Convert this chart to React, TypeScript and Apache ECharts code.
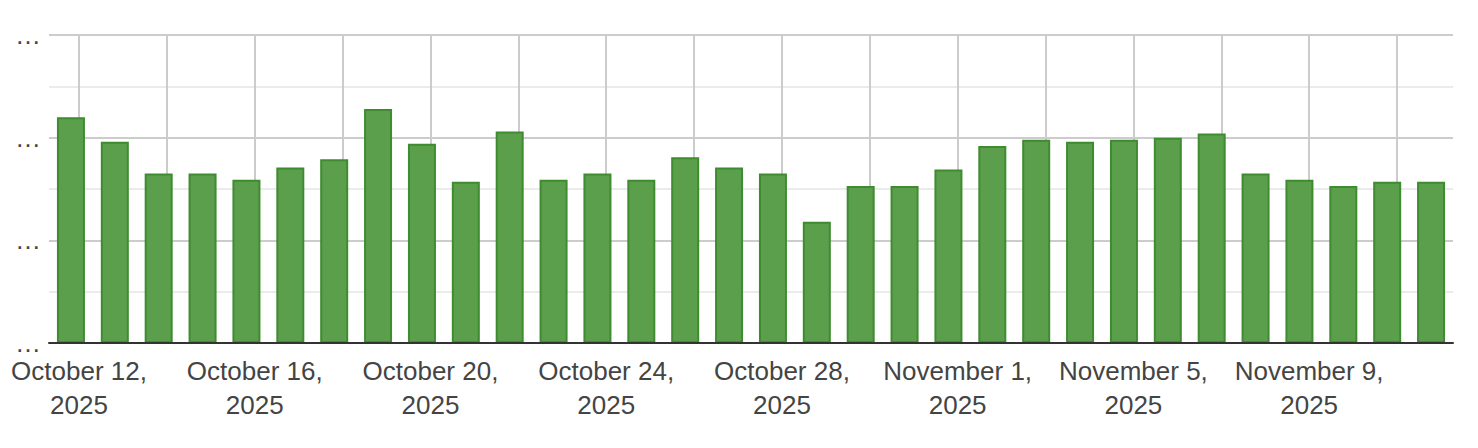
import React, { useEffect, useRef } from "react";
import * as echarts from "echarts";

const dates = [
  "2025-10-12", "2025-10-13", "2025-10-14", "2025-10-15", "2025-10-16", "2025-10-17",
  "2025-10-18", "2025-10-19", "2025-10-20", "2025-10-21", "2025-10-22", "2025-10-23",
  "2025-10-24", "2025-10-25", "2025-10-26", "2025-10-27", "2025-10-28", "2025-10-29",
  "2025-10-30", "2025-10-31", "2025-11-01", "2025-11-02", "2025-11-03", "2025-11-04",
  "2025-11-05", "2025-11-06", "2025-11-07", "2025-11-08", "2025-11-09", "2025-11-10",
  "2025-11-11", "2025-11-12",
];

const values = [
  220, 196, 165, 165, 159, 171, 179, 228, 194, 157, 206, 159,
  165, 159, 181, 171, 165, 118, 153, 153, 169, 192, 198, 196,
  198, 200, 204, 165, 159, 153, 157, 157,
];

const dateTickLabels = [
  "October 12,\n2025",
  "October 16,\n2025",
  "October 20,\n2025",
  "October 24,\n2025",
  "October 28,\n2025",
  "November 1,\n2025",
  "November 5,\n2025",
  "November 9,\n2025",
];

const yMin = 0;
const yMax = 300;
const yInterval = 100;
const yTickLabel = "…";

const FONT = '"Liberation Sans", Arial, Helvetica, sans-serif';

export default function App() {
  const ref = useRef<HTMLDivElement>(null);

  useEffect(() => {
    if (!ref.current) return;
    const chart = echarts.init(ref.current, null, { renderer: "svg" });
    chart.setOption({
      animation: false,
      backgroundColor: "#ffffff",
      grid: [
        { left: 49, right: 25, top: 35, bottom: 105, containLabel: false },
        { left: 79, right: 81, top: 35, bottom: 105, containLabel: false },
      ],
      xAxis: [
        {
          type: "category",
          gridIndex: 0,
          data: dates,
          boundaryGap: true,
          z: 5,
          axisLine: { show: true, lineStyle: { color: "#333333", width: 2 } },
          axisTick: { show: false },
          axisLabel: { show: false },
          splitLine: { show: false },
        },
        {
          type: "value",
          gridIndex: 1,
          min: 0,
          max: 30,
          interval: 2,
          axisLine: { show: false },
          axisTick: { show: false },
          splitLine: { show: true, lineStyle: { color: "#cccccc", width: 2 } },
          axisLabel: {
            show: true,
            margin: 11,
            color: "#444444",
            fontFamily: FONT,
            fontSize: 26,
            lineHeight: 34,
            align: "center",
            showMinLabel: true,
            showMaxLabel: true,
            formatter: (v: number) =>
              v % 4 === 0 && dateTickLabels[v / 4] !== undefined ? dateTickLabels[v / 4] : "",
          },
        },
      ],
      yAxis: [
        {
          type: "value",
          gridIndex: 0,
          min: yMin,
          max: yMax,
          interval: yInterval,
          axisLine: { show: false },
          axisTick: { show: false },
          axisLabel: {
            show: true,
            margin: 8,
            padding: [4, 0, 0, 0],
            color: "#444444",
            fontFamily: FONT,
            fontSize: 26,
            showMinLabel: true,
            showMaxLabel: true,
            formatter: () => yTickLabel,
          },
          splitLine: { show: true, lineStyle: { color: "#cccccc", width: 2 } },
          minorTick: { show: false, splitNumber: 2 },
          minorSplitLine: { show: true, lineStyle: { color: "#ebebeb", width: 2 } },
        },
        {
          type: "value",
          gridIndex: 1,
          min: 0,
          max: 1,
          show: false,
          splitLine: { show: false },
        },
      ],
      series: [
        {
          type: "bar",
          xAxisIndex: 0,
          yAxisIndex: 0,
          data: values,
          barWidth: 28,
          itemStyle: {
            color: "#5b9f4d",
            borderColor: "#3f8b2f",
            borderWidth: 2,
          },
          z: 2,
        },
        {
          type: "line",
          xAxisIndex: 1,
          yAxisIndex: 1,
          data: [],
          silent: true,
        },
      ],
    });
    return () => chart.dispose();
  }, []);

  return (
    <div
      ref={ref}
      style={{ position: "fixed", left: 0, top: 0, width: 1478, height: 448 }}
    />
  );
}
